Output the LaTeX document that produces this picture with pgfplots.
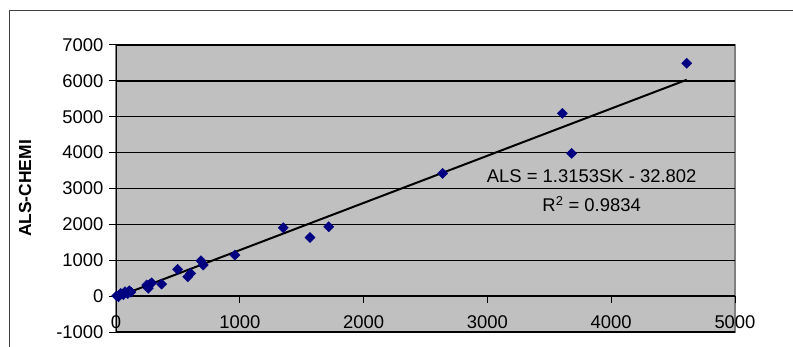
\documentclass[border=0pt]{standalone}
\usepackage{pgfplots}
\pgfplotsset{compat=1.18}
\usepackage{fontspec}
\setmainfont{Liberation Sans}
\definecolor{plotgray}{HTML}{C0C0C0}
\definecolor{bordergray}{HTML}{808080}
\definecolor{navy}{HTML}{000080}
\begin{document}
\begin{tikzpicture}
\draw[line width=1bp, black!75] (9bp,-20bp) -- (9bp,336bp) -- (820bp,336bp);
\begin{axis}[
  at={(116bp,15bp)}, anchor=south west,
  scale only axis, width=619bp, height=287bp,
  xmin=0, xmax=5000, ymin=-1000, ymax=7000,
  axis x line=middle, axis y line=left,
  axis line style={black, line width=1bp, -},
  axis background/.style={fill=plotgray, draw=bordergray, line width=1.2bp},
  xtick={0,1000,2000,3000,4000,5000},
  ytick={-1000,0,1000,2000,3000,4000,5000,6000,7000},
  hide obscured x ticks=false,
  tick align=outside, major tick length=7bp,
  tick style={black, line width=1bp},
  ymajorgrids, major grid style={black, line width=1.4bp},
  scaled ticks=false,
  /pgf/number format/assume math mode=true,
  /pgf/number format/1000 sep={},
  tick label style={font=\fontsize{18.5}{22}\selectfont},
  xticklabel style={anchor=north, yshift=-9bp},
  yticklabel style={anchor=east, xshift=-2bp},
  ylabel={\textbf{ALS-CHEMI}},
  ylabel style={font=\fontsize{17.5}{20}\selectfont, at={(axis description cs:-0.147,0.5)}, anchor=center},
  clip=false,
]
\addplot[only marks, mark=square*, mark size=3.6bp, mark options={rotate=45, fill=navy, draw=navy}] coordinates {
(5,10) (20,-15) (38,75) (60,40) (73,120) (95,70) (108,150) (120,110)
(248,310) (260,220) (275,330) (288,370) (369,335)
(498,744) (579,540) (603,632) (686,985) (705,865)
(961,1143) (1351,1905) (1567,1636) (1718,1934)
(2638,3421) (3605,5095) (3681,3979) (4610,6489)
};
\addplot[black, line width=2bp] coordinates {(5,-26.2) (4610,6030.7)};
\node[font=\fontsize{18.5}{22}\selectfont] at (axis cs:3842,3346) {ALS = 1.3153SK - 32.802};
\node[font=\fontsize{18.5}{22}\selectfont] at (axis cs:3842,2560) {R\textsuperscript{2} = 0.9834};
\end{axis}
\pgfresetboundingbox
\path[use as bounding box] (0,0) rectangle (793bp,347bp);
\end{tikzpicture}
\end{document}
